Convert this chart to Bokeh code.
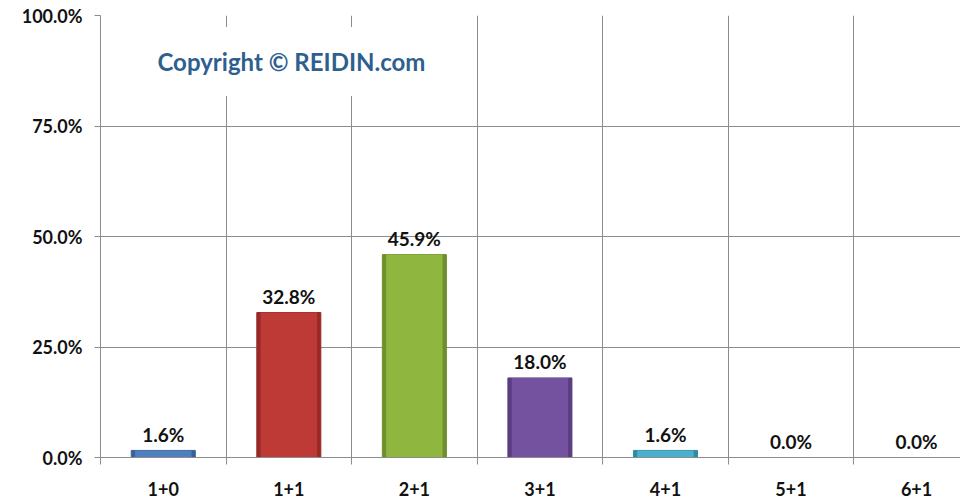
from bokeh.plotting import figure
from bokeh.models import (ColumnDataSource, FixedTicker, PrintfTickFormatter, Label, Range1d)
from bokeh.core.properties import value
from bokeh.embed import file_html
from bokeh.resources import INLINE

categories = ["1+0", "1+1", "2+1", "3+1", "4+1", "5+1", "6+1"]
shares = [1.6, 32.8, 45.9, 18.0, 1.6, 0.0, 0.0]
fill_colors = ["#4F7FBF", "#BE3A36", "#8FB63E", "#7552A0", "#4BB0CC", "#F79646", "#2C4D75"]
edge_colors = ["#36619A", "#972A27", "#6F8F2C", "#5A3C80", "#2F8AA3", "#B66D2A", "#1E3554"]
y_ticks = [0, 25, 50, 75, 100]

FONT = "Lato"
xs = list(range(len(categories)))
labels = ["%.1f%%" % v for v in shares]
src = ColumnDataSource(dict(x=xs, top=shares, fill=fill_colors, edge=edge_colors, label=labels))

p = figure(width=960, height=498, output_backend="svg", toolbar_location=None,
           x_range=Range1d(-0.5, 6.35), y_range=Range1d(0, 100),
           min_border_left=100, min_border_top=15, min_border_bottom=40, min_border_right=0)
p.outline_line_color = None
p.background_fill_color = "white"

# grid
p.ygrid.grid_line_color = "#8C8C8C"
p.ygrid.grid_line_width = 1
p.xgrid.grid_line_color = None
p.xgrid.minor_grid_line_color = "#8C8C8C"

p.xaxis.ticker = FixedTicker(ticks=xs, minor_ticks=[i - 0.5 for i in range(len(categories) + 1)])
p.xaxis.major_label_overrides = {i: c for i, c in enumerate(categories)}
p.xaxis.major_tick_line_color = None
p.xaxis.minor_tick_line_color = "#8C8C8C"
p.xaxis.minor_tick_out = 7
p.xaxis.minor_tick_in = 0
p.xaxis.axis_line_color = "#8C8C8C"
p.xaxis.major_label_standoff = 17
p.xaxis.major_label_text_font = FONT
p.xaxis.major_label_text_font_style = "bold"
p.xaxis.major_label_text_font_size = "18px"
p.xaxis.major_label_text_color = "#111111"

p.yaxis.ticker = FixedTicker(ticks=y_ticks)
p.yaxis.formatter = PrintfTickFormatter(format="%.1f%%")
p.yaxis.major_tick_line_color = "#8C8C8C"
p.yaxis.major_tick_out = 6
p.yaxis.major_tick_in = 0
p.yaxis.minor_tick_line_color = None
p.yaxis.axis_line_color = "#8C8C8C"
p.yaxis.major_label_standoff = 12
p.yaxis.major_label_text_font = FONT
p.yaxis.major_label_text_font_style = "bold"
p.yaxis.major_label_text_font_size = "18px"
p.yaxis.major_label_text_color = "#111111"

# bars: darker rim, lighter body to hint at the bevel gradient
p.vbar(x="x", top="top", bottom=0, width=0.51, source=src,
       fill_color="edge", line_color="edge", line_width=1)
p.vbar(x="x", top="top", bottom=0, width=0.45, source=src,
       fill_color="fill", line_color=None)

p.text(x="x", y="top", text="label", source=src, text_align="center",
       text_baseline="alphabetic", y_offset=-16,
       text_font=value(FONT), text_font_style="bold", text_font_size="19px",
       text_color="#111111")

cp = Label(x=45, y=396, x_units="screen", y_units="screen",
           text="Copyright © REIDIN.com", text_font=FONT, text_font_style="bold",
           text_font_size="24px", text_color="#2F5F8F", text_baseline="middle",
           background_fill_color="white", background_fill_alpha=1.0,
           padding=dict(left=12, right=12, top=20, bottom=20))
p.add_layout(cp)

open("out.html", "w").write(file_html(p, INLINE))
